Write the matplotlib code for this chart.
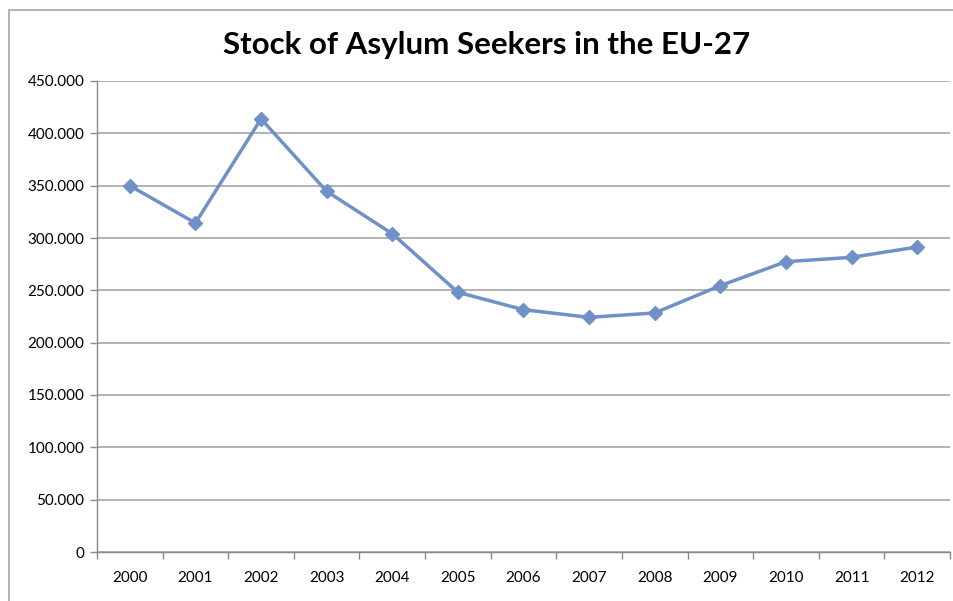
import matplotlib
matplotlib.use("Agg")
import matplotlib.pyplot as plt
from matplotlib.patches import Rectangle

years = ["2000", "2001", "2002", "2003", "2004", "2005", "2006",
         "2007", "2008", "2009", "2010", "2011", "2012"]
stock = [350000, 314300, 413800, 344600, 304100, 248100, 231500,
         224200, 228400, 254500, 277400, 281500, 291400]
yticks = [0, 50000, 100000, 150000, 200000, 250000, 300000, 350000, 400000, 450000]
ylabels = ["0", "50.000", "100.000", "150.000", "200.000", "250.000",
           "300.000", "350.000", "400.000", "450.000"]

plt.rcParams['font.family'] = ['Lato', 'DejaVu Sans']

fig = plt.figure(figsize=(9.54, 6.01), dpi=100)
ax = fig.add_axes([97/954, 1-552/601, (950-97)/954, (552-81)/601])

# outer chart border (cropped on right/bottom)
fig.patches.append(Rectangle((9.5/954, -0.5), 2, 1.5 - 9.5/601,
                             transform=fig.transFigure, fill=False,
                             edgecolor='#a6a6a6', lw=1.2))

x = range(len(years))
ax.plot(x, stock, color='#6f91c7', lw=2.5, marker='D', markersize=7,
        markeredgecolor='#6f91c7', zorder=3)

ax.set_xlim(-0.5, len(years) - 0.5)
ax.set_ylim(0, 450000)
ax.set_yticks(yticks)
ax.set_yticklabels(ylabels)
ax.set_xticks(list(x))
ax.set_xticklabels(years)
ax.set_xticks([i - 0.5 for i in range(len(years) + 1)], minor=True)
ax.tick_params(axis='x', which='major', length=0, pad=14, labelsize=11)
ax.tick_params(axis='x', which='minor', length=5, color='#898989', width=1)
ax.tick_params(axis='y', length=5, color='#898989', width=1, labelsize=11, pad=4)

ax.yaxis.grid(True, color='#a6a6a6', lw=1.2)
ax.set_axisbelow(True)
for s in ['top', 'right']:
    ax.spines[s].set_visible(False)
for s in ['left', 'bottom']:
    ax.spines[s].set_color('#898989')
    ax.spines[s].set_linewidth(1)

fig.text(487/954, 1-45/601, "Stock of Asylum Seekers in the EU-27",
         ha='center', va='center', fontsize=22.5, fontweight='bold')

fig.savefig("out.png", dpi=100)
